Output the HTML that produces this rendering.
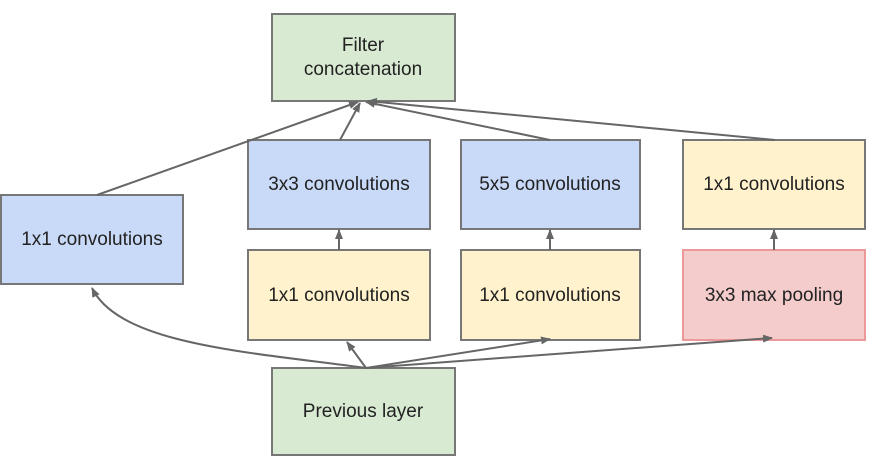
<!DOCTYPE html>
<html><head><style>
body{margin:0;background:#fff;width:869px;height:471px;overflow:hidden}
svg text{font-family:"Liberation Sans",Arial,sans-serif;font-size:19px;fill:#222;text-anchor:middle;dominant-baseline:middle}
</style></head><body>
<svg width="869" height="471" viewBox="0 0 869 471">
<defs><marker id="a" markerWidth="10" markerHeight="8" refX="9" refY="4" orient="auto" markerUnits="userSpaceOnUse"><path d="M0,0 L10,4 L0,8z" fill="#666"/></marker></defs>
<g stroke="#777" stroke-width="2">
<rect x="272" y="14" width="183" height="87" fill="#d9ead3"/>
<rect x="1" y="195" width="182" height="89" fill="#c9daf8"/>
<rect x="248" y="140" width="182" height="89" fill="#c9daf8"/>
<rect x="461" y="140" width="179" height="89" fill="#c9daf8"/>
<rect x="683" y="140" width="182" height="89" fill="#fff2cc"/>
<rect x="248" y="250" width="182" height="90" fill="#fff2cc"/>
<rect x="461" y="250" width="179" height="90" fill="#fff2cc"/>
<rect x="683" y="250" width="182" height="90" fill="#f4cccc" stroke="#e99"/>
<rect x="272" y="368" width="183" height="87" fill="#d9ead3"/>
</g>
<g stroke="#666" stroke-width="2" fill="none" marker-end="url(#a)">
<line x1="97" y1="195" x2="358" y2="102"/>
<line x1="340" y1="140" x2="360" y2="103"/>
<line x1="550" y1="140" x2="366" y2="102"/>
<line x1="775" y1="140" x2="368" y2="101"/>
<line x1="339" y1="250" x2="339" y2="230"/>
<line x1="550" y1="250" x2="550" y2="230"/>
<line x1="774" y1="250" x2="774" y2="230"/>
<line x1="366" y1="368" x2="347" y2="342"/>
<line x1="366" y1="368" x2="550" y2="339"/>
<line x1="366" y1="368" x2="772" y2="338"/>
<path d="M366,368 C250,352 120,345 92,288"/>
</g>
<text x="363" y="46">Filter</text>
<text x="363" y="70">concatenation</text>
<text x="92" y="240">1x1 convolutions</text>
<text x="339" y="185">3x3 convolutions</text>
<text x="550" y="185">5x5 convolutions</text>
<text x="774" y="185">1x1 convolutions</text>
<text x="339" y="296">1x1 convolutions</text>
<text x="550" y="296">1x1 convolutions</text>
<text x="774" y="296">3x3 max pooling</text>
<text x="363" y="412">Previous layer</text>
</svg>
</body></html>
